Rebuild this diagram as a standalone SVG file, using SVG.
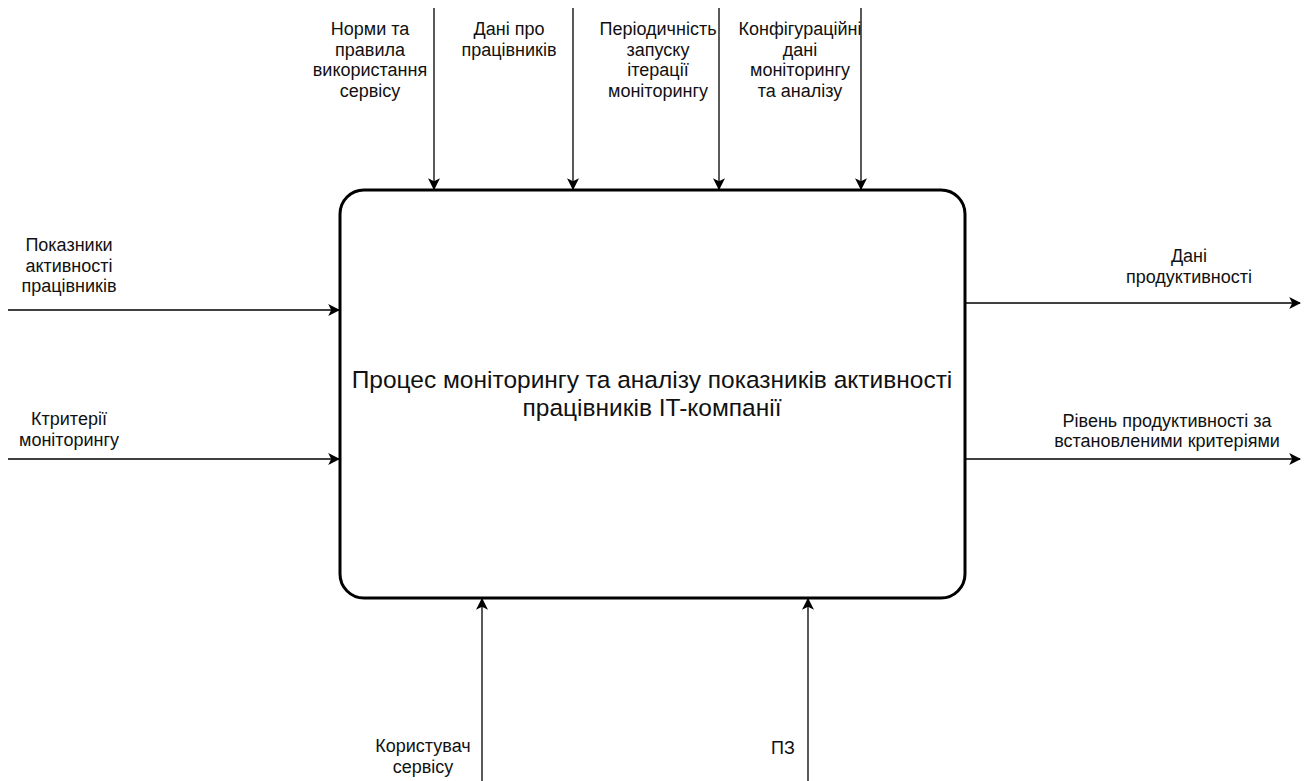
<svg xmlns="http://www.w3.org/2000/svg" width="1310" height="781" viewBox="0 0 1310 781">
<style>
.lbl{font-family:"Liberation Sans",Arial,sans-serif;font-size:18px;fill:#111;text-anchor:middle}
.main{font-family:"Liberation Sans",Arial,sans-serif;font-size:24.5px;fill:#111;text-anchor:middle}
.c{stroke:#000;stroke-width:1.3;fill:none;marker-end:url(#ah)}
</style>
<defs>
<marker id="ah" viewBox="0 0 10 10" refX="9" refY="5" markerWidth="12" markerHeight="12" markerUnits="userSpaceOnUse" orient="auto">
<path d="M0,0 L10,5 L0,10 L2.5,5 Z" fill="#000"/>
</marker>
</defs>
<rect width="1310" height="781" fill="#fff"/>
<g id="connectors">
<line class="c" x1="434" y1="8" x2="434" y2="189"/>
<line class="c" x1="573" y1="8" x2="573" y2="189"/>
<line class="c" x1="719" y1="8" x2="719" y2="189"/>
<line class="c" x1="861" y1="8" x2="861" y2="189"/>
<line class="c" x1="8" y1="310" x2="339" y2="310"/>
<line class="c" x1="8" y1="459" x2="339" y2="459"/>
<line class="c" x1="965" y1="303" x2="1300" y2="303"/>
<line class="c" x1="965" y1="459" x2="1300" y2="459"/>
<line class="c" x1="482" y1="781" x2="482" y2="599"/>
<line class="c" x1="808" y1="781" x2="808" y2="599"/>
</g>
<g id="process">
<rect x="340" y="190" width="625" height="408" rx="24" ry="24" fill="#fff" stroke="#000" stroke-width="3"/>
<text class="main" x="652" y="388">Процес моніторингу та аналізу показників активності</text>
<text class="main" x="652" y="416">працівників IT-компанії</text>
</g>
<g id="label-norms">
<text class="lbl" x="370" y="35">Норми та</text>
<text class="lbl" x="370" y="55.5">правила</text>
<text class="lbl" x="370" y="76">використання</text>
<text class="lbl" x="370" y="96.5">сервісу</text>
</g>
<g id="label-employees">
<text class="lbl" x="509" y="35">Дані про</text>
<text class="lbl" x="509" y="55.5">працівників</text>
</g>
<g id="label-period">
<text class="lbl" x="658" y="35">Періодичність</text>
<text class="lbl" x="658" y="55.5">запуску</text>
<text class="lbl" x="658" y="76">ітерації</text>
<text class="lbl" x="658" y="96.5">моніторингу</text>
</g>
<g id="label-config">
<text class="lbl" x="800" y="35">Конфігураційні</text>
<text class="lbl" x="800" y="55.5">дані</text>
<text class="lbl" x="800" y="76">моніторингу</text>
<text class="lbl" x="800" y="96.5">та аналізу</text>
</g>
<g id="label-activity">
<text class="lbl" x="69" y="251">Показники</text>
<text class="lbl" x="69" y="271.5">активності</text>
<text class="lbl" x="69" y="292">працівників</text>
</g>
<g id="label-criteria">
<text class="lbl" x="69" y="425">Ктритерії</text>
<text class="lbl" x="69" y="445.5">моніторингу</text>
</g>
<g id="label-productivity">
<text class="lbl" x="1189" y="262">Дані</text>
<text class="lbl" x="1189" y="282.5">продуктивності</text>
</g>
<g id="label-level">
<text class="lbl" x="1167" y="426.5">Рівень продуктивності за</text>
<text class="lbl" x="1167" y="447">встановленими критеріями</text>
</g>
<g id="label-user">
<text class="lbl" x="423" y="752">Користувач</text>
<text class="lbl" x="423" y="772.5">сервісу</text>
</g>
<g id="label-software">
<text class="lbl" x="783" y="754">ПЗ</text>
</g>
</svg>
